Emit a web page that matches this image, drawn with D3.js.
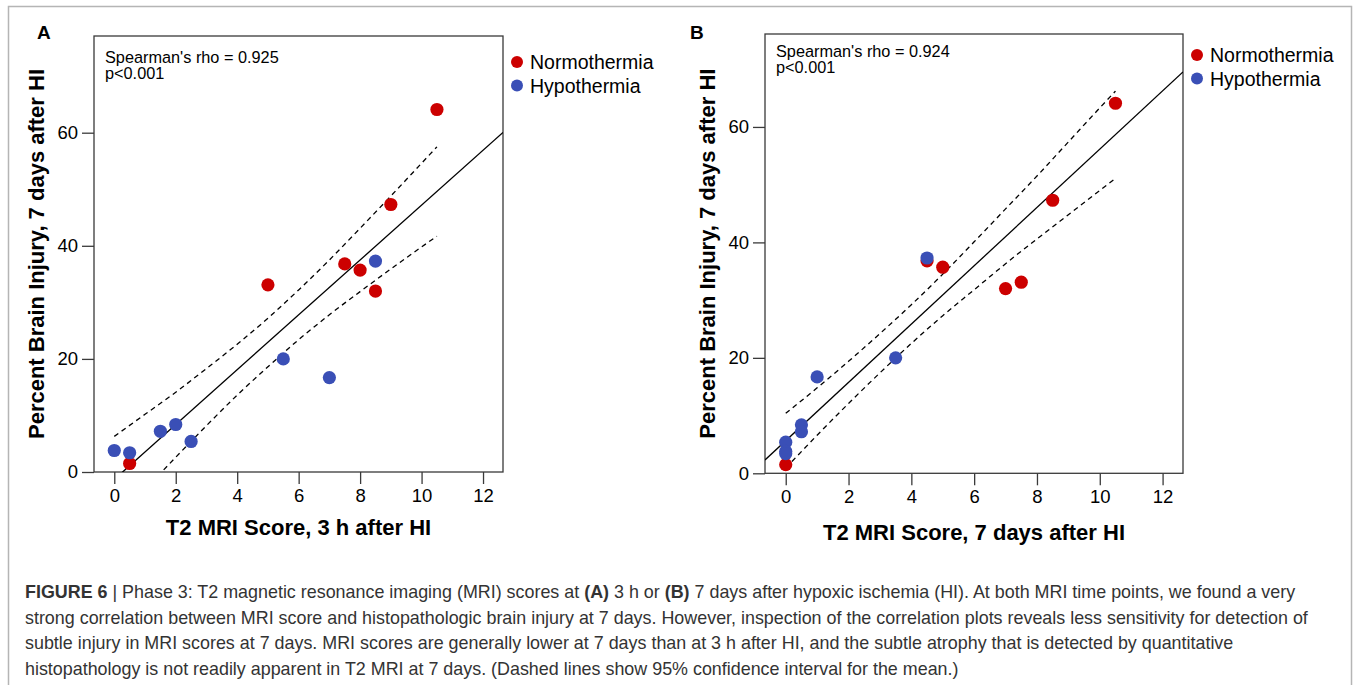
<!DOCTYPE html>
<html>
<head>
<meta charset="utf-8">
<script src="https://cdn.jsdelivr.net/npm/d3@7"></script>
<style>
  body { margin: 0; background: #fff; }
  svg text { font-family: "Liberation Sans", Arial, Helvetica, sans-serif; }
</style>
</head>
<body>
<svg id="fig" width="1358" height="685"></svg>
<script>
// panel A: T2 score at 3 h vs injury
var scoreA_norm = [10.5, 9, 7.5, 8, 8.5, 5, 0.5];
var injuryA_norm = [64.1, 47.3, 36.8, 35.7, 32.0, 33.1, 1.5];
var scoreA_hypo = [8.5, 5.5, 7, 2, 1.5, 2.5, 0, 0.5];
var injuryA_hypo = [37.3, 20.0, 16.7, 8.4, 7.2, 5.4, 3.8, 3.4];

// panel B: T2 score at 7 days vs injury
var scoreB_norm = [10.5, 8.5, 7, 7.5, 4.5, 5, 0];
var injuryB_norm = [64.1, 47.3, 32.0, 33.1, 36.8, 35.7, 1.5];
var scoreB_hypo = [4.5, 3.5, 1, 0.5, 0.5, 0, 0, 0];
var injuryB_hypo = [37.3, 20.0, 16.7, 8.4, 7.2, 5.4, 3.8, 3.4];

// fitted line [intercept, slope] and 95% CI of mean
var fitA = [-1.31, 4.85];
var fitB = [5.65, 5.05];
var bandX = [0, 1, 2, 3, 4, 5, 6, 7, 8, 9, 10, 10.5];
var upperA = [6.3, 10.2, 14.1, 18.3, 22.6, 27.2, 32.2, 37.5, 43.1, 48.8, 54.6, 57.5];
var lowerA = [-8.9, -3.1, 2.6, 8.2, 13.6, 18.6, 23.4, 27.8, 31.9, 35.9, 39.8, 41.7];
var upperB = [10.4, 14.8, 19.4, 24.2, 29.2, 34.5, 40.1, 45.8, 51.5, 57.4, 63.3, 66.2];
var lowerB = [0.9, 6.6, 12.1, 17.4, 22.5, 27.3, 31.8, 36.3, 40.6, 44.8, 49.0, 51.1];

var xTicks = [0, 2, 4, 6, 8, 10, 12];
var yTicks = [0, 20, 40, 60];
var groups = ["Normothermia", "Hypothermia"];
var colors = ["#cc0000", "#3a4fb6"];

var captionLines = [
  [["FIGURE 6", true], [" | Phase 3: T2 magnetic resonance imaging (MRI) scores at ", false], ["(A)", true], [" 3 h or ", false], ["(B)", true], [" 7 days after hypoxic ischemia (HI). At both MRI time points, we found a very", false]],
  [["strong correlation between MRI score and histopathologic brain injury at 7 days. However, inspection of the correlation plots reveals less sensitivity for detection of", false]],
  [["subtle injury in MRI scores at 7 days. MRI scores are generally lower at 7 days than at 3 h after HI, and the subtle atrophy that is detected by quantitative", false]],
  [["histopathology is not readily apparent in T2 MRI at 7 days. (Dashed lines show 95% confidence interval for the mean.)", false]]
];

var svg = d3.select("#fig");

svg.append("rect")
  .attr("x", 8.5).attr("y", 6.5)
  .attr("width", 1343).attr("height", 720)
  .attr("fill", "none")
  .attr("stroke", "#b5b5b5")
  .attr("stroke-width", 1.5);

function zip(xs, ys) {
  return xs.map(function(v, i) { return [v, ys[i]]; });
}

function drawPanel(cfg) {
  var x = d3.scaleLinear().domain([-0.66, 12.65]).range([cfg.left, cfg.right]);
  var y = d3.scaleLinear().domain([0, cfg.yMax]).range([cfg.bottom, cfg.top]);
  var g = svg.append("g");

  g.append("clipPath").attr("id", cfg.id + "-clip")
    .append("rect")
    .attr("x", cfg.left).attr("y", cfg.top)
    .attr("width", cfg.right - cfg.left).attr("height", cfg.bottom - cfg.top);

  var xAxis = d3.axisBottom(x).tickValues(xTicks).tickSize(12).tickPadding(5);
  var yAxis = d3.axisLeft(y).tickValues(yTicks).tickSize(12).tickPadding(4);

  var gx = g.append("g").attr("transform", "translate(0," + cfg.bottom + ")").call(xAxis);
  var gy = g.append("g").attr("transform", "translate(" + cfg.left + ",0)").call(yAxis);
  [gx, gy].forEach(function(a) {
    a.select(".domain").remove();
    a.selectAll(".tick line").attr("stroke", "#3a3a3a").attr("stroke-width", 1.3);
    a.selectAll(".tick text").attr("font-size", 18.5).attr("fill", "#000")
      .attr("font-family", "Liberation Sans, Arial, sans-serif");
  });

  g.append("rect")
    .attr("x", cfg.left).attr("y", cfg.top)
    .attr("width", cfg.right - cfg.left).attr("height", cfg.bottom - cfg.top)
    .attr("fill", "none").attr("stroke", "#3a3a3a").attr("stroke-width", 1.3);

  var plot = g.append("g").attr("clip-path", "url(#" + cfg.id + "-clip)");
  var line = d3.line().x(function(d) { return x(d[0]); }).y(function(d) { return y(d[1]); });
  var band = d3.line().curve(d3.curveMonotoneX)
    .x(function(d) { return x(d[0]); }).y(function(d) { return y(d[1]); });

  [cfg.upper, cfg.lower].forEach(function(vals) {
    plot.append("path")
      .attr("d", band(zip(bandX, vals)))
      .attr("fill", "none").attr("stroke", "#000")
      .attr("stroke-width", 1.3).attr("stroke-dasharray", "5,4");
  });

  var xd = x.domain();
  plot.append("path")
    .attr("d", line(xd.map(function(v) { return [v, cfg.fit[0] + cfg.fit[1] * v]; })))
    .attr("fill", "none").attr("stroke", "#000").attr("stroke-width", 1.3);

  var sets = [zip(cfg.normX, cfg.normY), zip(cfg.hypoX, cfg.hypoY)];
  sets.forEach(function(pts, k) {
    plot.selectAll(null).data(pts).enter().append("circle")
      .attr("cx", function(d) { return x(d[0]); })
      .attr("cy", function(d) { return y(d[1]); })
      .attr("r", 6.6)
      .attr("fill", colors[k]);
  });

  g.append("text").attr("x", cfg.left + 11).attr("y", cfg.statY)
    .attr("font-size", 16.3).text(cfg.rho);
  g.append("text").attr("x", cfg.left + 11).attr("y", cfg.statY + 16)
    .attr("font-size", 16.3).text("p<0.001");

  groups.forEach(function(name, k) {
    g.append("circle").attr("cx", cfg.legX).attr("cy", cfg.legY + k * 23.5)
      .attr("r", 6).attr("fill", colors[k]);
    g.append("text").attr("x", cfg.legX + 13).attr("y", cfg.legY + k * 23.5 + 7)
      .attr("font-size", 19.5).text(name);
  });

  g.append("text").attr("x", cfg.letterX).attr("y", 39)
    .attr("font-size", 19).attr("font-weight", "bold").text(cfg.letter);

  g.append("text")
    .attr("transform", "translate(" + cfg.yLabX + "," + ((cfg.top + cfg.bottom) / 2) + ") rotate(-90)")
    .attr("text-anchor", "middle").attr("dy", "0.35em")
    .attr("font-size", 22).attr("font-weight", "bold")
    .text("Percent Brain Injury, 7 days after HI");

  g.append("text")
    .attr("x", (cfg.left + cfg.right) / 2).attr("y", cfg.xLabY)
    .attr("text-anchor", "middle")
    .attr("font-size", 22).attr("font-weight", "bold")
    .text(cfg.xLabel);
}

drawPanel({
  id: "pa", letter: "A", letterX: 37,
  left: 94, right: 503, top: 36, bottom: 472, yMax: 77.1,
  normX: scoreA_norm, normY: injuryA_norm, hypoX: scoreA_hypo, hypoY: injuryA_hypo,
  fit: fitA, upper: upperA, lower: lowerA,
  rho: "Spearman's rho = 0.925", statY: 63,
  legX: 517, legY: 62, yLabX: 36, xLabY: 535,
  xLabel: "T2 MRI Score, 3 h after HI"
});

drawPanel({
  id: "pb", letter: "B", letterX: 690,
  left: 765, right: 1183, top: 34, bottom: 473.3, yMax: 76.1,
  normX: scoreB_norm, normY: injuryB_norm, hypoX: scoreB_hypo, hypoY: injuryB_hypo,
  fit: fitB, upper: upperB, lower: lowerB,
  rho: "Spearman's rho = 0.924", statY: 57,
  legX: 1197, legY: 55, yLabX: 707, xLabY: 540,
  xLabel: "T2 MRI Score, 7 days after HI"
});

var cap = svg.append("g").attr("fill", "#333");
captionLines.forEach(function(parts, i) {
  var t = cap.append("text").attr("x", 25).attr("y", 598 + i * 25.5).attr("font-size", 17.9);
  parts.forEach(function(p) {
    t.append("tspan").attr("font-weight", p[1] ? "bold" : "normal").text(p[0]);
  });
});
</script>
</body>
</html>
